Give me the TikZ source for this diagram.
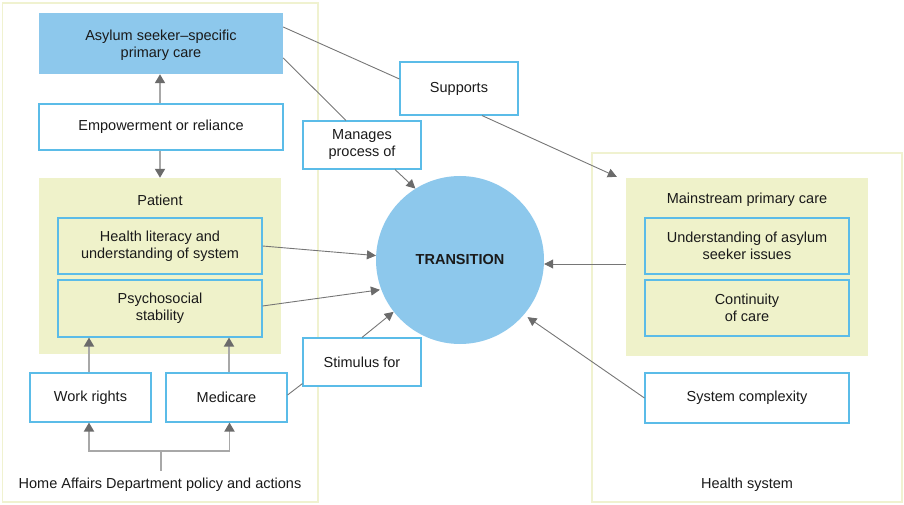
\documentclass[tikz,border=0pt]{standalone}
\usepackage{fontspec}
\setmainfont{Liberation Sans}
\usetikzlibrary{arrows.meta,calc}
\definecolor{boxblue}{HTML}{8DC8EC}
\definecolor{edgeblue}{HTML}{5BBCE8}
\definecolor{paneltint}{HTML}{EFF2CA}
\definecolor{panelline}{HTML}{F0F2D0}
\definecolor{lightgray}{HTML}{A8A8A8}
\definecolor{darkgray}{HTML}{767676}
\definecolor{headgray}{HTML}{6B6B6B}
\definecolor{txt}{HTML}{1A1A1A}
\tikzset{
  every node/.style={font=\fontsize{14.5}{17}\selectfont, text=txt},
  bluebox/.style={rectangle, draw=edgeblue, line width=1.1pt, fill=white, align=center, inner sep=0pt},
  tintbox/.style={rectangle, draw=edgeblue, line width=1.1pt, fill=paneltint, align=center, inner sep=0pt},
  tintpanel/.style={rectangle, fill=paneltint, inner sep=0pt},
  outerpanel/.style={draw=panelline, line width=1.3pt},
  harr/.style={draw=lightgray, line width=1.8pt, -{Triangle[length=9pt,width=10pt,color=headgray]}},
  hline/.style={draw=lightgray, line width=1.8pt},
  darr/.style={draw=darkgray, line width=0.9pt, -{Triangle[length=9pt,width=9pt,color=headgray]}},
  dline/.style={draw=darkgray, line width=0.9pt},
}
\begin{document}
\begin{tikzpicture}[x=1pt,y=-1pt]
\useasboundingbox (0,0) rectangle (904,505);
% outer panels
\draw[outerpanel] (2.5,3) rectangle (318,502);
\draw[outerpanel] (592,153) rectangle (902,502);
% left side
\node[rectangle, fill=boxblue, minimum width=244pt, minimum height=61pt, inner sep=0pt] (asy) at (161,43.5) {};
\node[align=center, inner sep=0pt] (asyl) at (161,45) {Asylum seeker--specific\\primary care};
\node[bluebox, minimum width=244pt, minimum height=46pt] (emp) at (161,127) {Empowerment or reliance};
\node[tintpanel, minimum width=242pt, minimum height=176pt] (pat) at (160,266) {};
\node (patl) at (160,200) {Patient};
\node[tintbox, minimum width=204pt, minimum height=56pt] (hl) at (160,246) {Health literacy and\\understanding of system};
\node[tintbox, minimum width=204pt, minimum height=57pt] (ps) at (160,308.5) {Psychosocial\\stability};
\node[bluebox, minimum width=121pt, minimum height=49pt] (wr) at (90.5,397.5) {Work rights};
\node[bluebox, minimum width=121pt, minimum height=49pt] (med) at (226.5,397.5) {Medicare};
\node (ha) at (160,485) {Home Affairs Department policy and actions};
% middle
\node[bluebox, minimum width=118pt, minimum height=53pt] (sup) at (459,88.5) {Supports};
\node[bluebox, minimum width=118pt, minimum height=48pt] (man) at (362,145) {Manages\\process of};
\node[bluebox, minimum width=118pt, minimum height=48pt] (stim) at (362,362) {Stimulus for};
\node[circle, fill=boxblue, minimum size=168pt, inner sep=0pt, font=\fontsize{14.5}{17}\selectfont\bfseries] (tr) at (460,260) {TRANSITION};
% right side
\node[tintpanel, minimum width=242pt, minimum height=178pt] (mp) at (747,267) {};
\node (mpl) at (747,200) {Mainstream primary care};
\node[tintbox, minimum width=204pt, minimum height=56pt] (und) at (747,246) {Understanding of asylum\\seeker issues};
\node[tintbox, minimum width=204pt, minimum height=56pt] (cont) at (747,308) {Continuity\\of care};
\node[bluebox, minimum width=204pt, minimum height=50pt] (sys) at (747,398) {System complexity};
\node (hs) at (747,485) {Health system};
% vertical arrows
\draw[harr] ([xshift=-1pt]emp.north) -- ([xshift=-1pt]asy.south);
\draw[harr] ([xshift=-1pt]emp.south) -- ([xshift=-1pt]emp.south |- pat.north);
\draw[harr] ([xshift=-1.5pt]wr.north) -- ([xshift=-1.5pt]wr.north |- ps.south);
\draw[harr] ([xshift=2.5pt]med.north) -- ([xshift=2.5pt]med.north |- ps.south);
\coordinate (hj) at (161,451);
\draw[hline] (161,471) -- (hj);
\draw[harr] (hj) -| ([xshift=-1.5pt]wr.south);
\draw[harr] (hj) -| ([xshift=3pt]med.south);
% diagonal connectors
\draw[dline] ([yshift=16.5pt]asy.east) -- ([yshift=9.5pt]sup.west);
\draw[darr] ([xshift=23pt]sup.south) -- ([xshift=-9pt,yshift=1pt]mp.north west);
\draw[dline] ([yshift=-14.5pt]asy.east) -- ([xshift=-16pt]man.north);
\draw[darr] ([xshift=33pt]man.south) -- (tr.122.6);
\draw[darr] (hl.east) -- (tr.177);
\draw[darr] ([yshift=2.5pt]ps.east) -- ([shift={(-1pt,-1pt)}]tr.200);
\draw[dline] ([yshift=2.5pt]med.east) -- ([yshift=3pt]stim.south west);
\draw[darr] (stim.north) -- (tr.218.5);
\coordinate (mpw) at ([yshift=3pt]mp.west);
\draw[darr] (mpw) -- (mpw -| tr.east);
\draw[darr] (sys.west) -- ([shift={(3pt,-3pt)}]tr.-40);
\end{tikzpicture}
\end{document}
